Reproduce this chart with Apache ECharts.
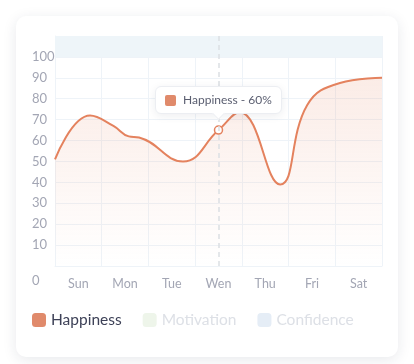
<!DOCTYPE html>
<html>
<head>
<meta charset="utf-8">
<script src="https://cdn.jsdelivr.net/npm/echarts@6/dist/echarts.min.js"></script>
<style>
html,body{margin:0;padding:0;background:#fff;}
#card{position:absolute;left:16px;top:16px;width:382px;height:341px;border-radius:10px;background:#fff;box-shadow:0 3px 14px rgba(30,40,70,0.10);}
#chart{position:absolute;left:0;top:0;width:414px;height:364px;}
</style>
</head>
<body>
<div id="card"></div>
<div id="chart"></div>
<script>
// ---- data ----
var days = ['Sun', 'Mon', 'Tue', 'Wen', 'Thu', 'Fri', 'Sat'];
var yTicks = [0, 10, 20, 30, 40, 50, 60, 70, 80, 90, 100];
// curve positions measured in day units (0 = left edge of Sun, 7 = right edge of Sat)
var curvePos =       [0,  0.75, 1.25, 1.58, 1.8,  2.74, 3.5, 3.95, 4.82, 5.4, 6.1,  7.0];
var happinessCurve = [51, 72,   67,   62,   61.5, 50,   65,  73.5, 39,   77,  87.5, 90];
var seriesNames = ['Happiness', 'Motivation', 'Confidence'];
var seriesColors = ['#E08A6B', '#EEF5EA', '#E5EDF6'];
var highlightDay = 'Wen';
var highlightValue = 60;

var hiIdx = days.indexOf(highlightDay);
var curveData = curvePos.map(function (p, i) { return [p, happinessCurve[i]]; });
var curveHiIdx = curvePos.indexOf(hiIdx + 0.5);

var chart = echarts.init(document.getElementById('chart'), null, {renderer: 'canvas'});
var FONT = 'Lato, "Noto Sans", sans-serif';
var gridColor = '#EEF3F8';

var option = {
  animation: false,
  textStyle: {fontFamily: FONT},
  grid: {left: 55, right: 32, top: 36, bottom: 98, containLabel: false},
  legend: {
    left: 32, bottom: 36, padding: 0,
    itemWidth: 14, itemHeight: 14, itemGap: 21,
    icon: 'roundRect',
    selectedMode: false,
    textStyle: {fontSize: 15.5, fontFamily: FONT, color: '#3D4157'},
    data: [
      {name: seriesNames[0], itemStyle: {color: seriesColors[0], opacity: 1, borderWidth: 0}, textStyle: {color: '#3D4157'}},
      {name: seriesNames[1], textStyle: {color: '#DDE0E6'}},
      {name: seriesNames[2], textStyle: {color: '#DDE0E6'}}
    ]
  },
  tooltip: {
    trigger: 'item',
    triggerOn: 'none',
    alwaysShowContent: true,
    showDelay: 0,
    transitionDuration: 0,
    backgroundColor: '#fff',
    borderColor: '#ECEEF2',
    borderWidth: 1,
    padding: [5, 9],
    extraCssText: 'border-radius:6px;box-shadow:0 2px 8px rgba(30,40,70,0.08);',
    textStyle: {fontFamily: FONT, fontSize: 12, color: '#5A5E70'},
    position: function (point, params, dom, rect, size) {
      return [point[0] - size.contentSize[0] / 2, point[1] - size.contentSize[1] - 16];
    },
    formatter: function () {
      return '<div style="display:flex;align-items:center;white-space:nowrap;line-height:16px;">' +
        '<span style="display:inline-block;width:11px;height:11px;border-radius:2px;background:' + seriesColors[0] + ';margin-right:7px;"></span>' +
        seriesNames[0] + ' - ' + highlightValue + '%</div>' +
        '<div style="position:absolute;left:50%;bottom:-5px;width:8px;height:8px;margin-left:-4px;background:#fff;border-right:1px solid #ECEEF2;border-bottom:1px solid #ECEEF2;transform:rotate(45deg);"></div>';
    }
  },
  xAxis: [{
    type: 'category',
    data: days,
    boundaryGap: true,
    axisLine: {show: true, lineStyle: {color: gridColor}},
    axisTick: {show: false},
    axisLabel: {color: '#A3A6B4', fontSize: 12.5, margin: 11, fontFamily: FONT},
    splitLine: {show: true, lineStyle: {color: gridColor}}
  }, {
    type: 'value',
    min: 0, max: 7,
    show: false
  }],
  yAxis: {
    type: 'value',
    min: 0, max: 110, interval: 10,
    axisLine: {show: true, lineStyle: {color: gridColor}},
    axisTick: {show: false},
    splitLine: {show: true, lineStyle: {color: gridColor}},
    axisLabel: {
      color: '#A3A6B4', fontSize: 13, align: 'left', margin: 23, fontFamily: FONT,
      formatter: function (v) {
        if (v === 0) return '{z|0}';
        if (yTicks.indexOf(v) < 0) return '';
        return String(v);
      },
      rich: {z: {padding: [30, 0, 0, 0], color: '#A3A6B4', fontSize: 13, fontFamily: FONT}}
    }
  },
  series: [{
    name: seriesNames[0],
    type: 'line',
    xAxisIndex: 1,
    smooth: 0.45,
    symbol: 'circle',
    symbolSize: 8,
    showSymbol: true,
    color: seriesColors[0],
    itemStyle: {color: '#fff', borderColor: '#E4825E', borderWidth: 1.5, opacity: 0},
    lineStyle: {color: '#E4825E', width: 2},
    areaStyle: {
      color: new echarts.graphic.LinearGradient(0, 0, 0, 1, [
        {offset: 0, color: 'rgba(228,130,94,0.22)'},
        {offset: 1, color: 'rgba(228,130,94,0)'}
      ])
    },
    markArea: {
      silent: true,
      itemStyle: {color: '#EEF5F9'},
      data: [[{yAxis: 100}, {yAxis: 110}]]
    },
    markLine: {
      silent: true,
      symbol: 'none',
      label: {show: false},
      lineStyle: {color: '#DCDFE4', width: 1.5, type: [5, 4]},
      data: [{xAxis: hiIdx + 0.5}]
    },
    z: 3,
    data: curveData.map(function (d, i) {
      return i === curveHiIdx ? {value: d, itemStyle: {opacity: 1}} : d;
    })
  }, {
    name: seriesNames[1],
    type: 'line',
    xAxisIndex: 1,
    color: seriesColors[1],
    data: []
  }, {
    name: seriesNames[2],
    type: 'line',
    xAxisIndex: 1,
    color: seriesColors[2],
    data: []
  }]
};
chart.setOption(option);
chart.dispatchAction({type: 'showTip', seriesIndex: 0, dataIndex: curveHiIdx});
</script>
</body>
</html>
